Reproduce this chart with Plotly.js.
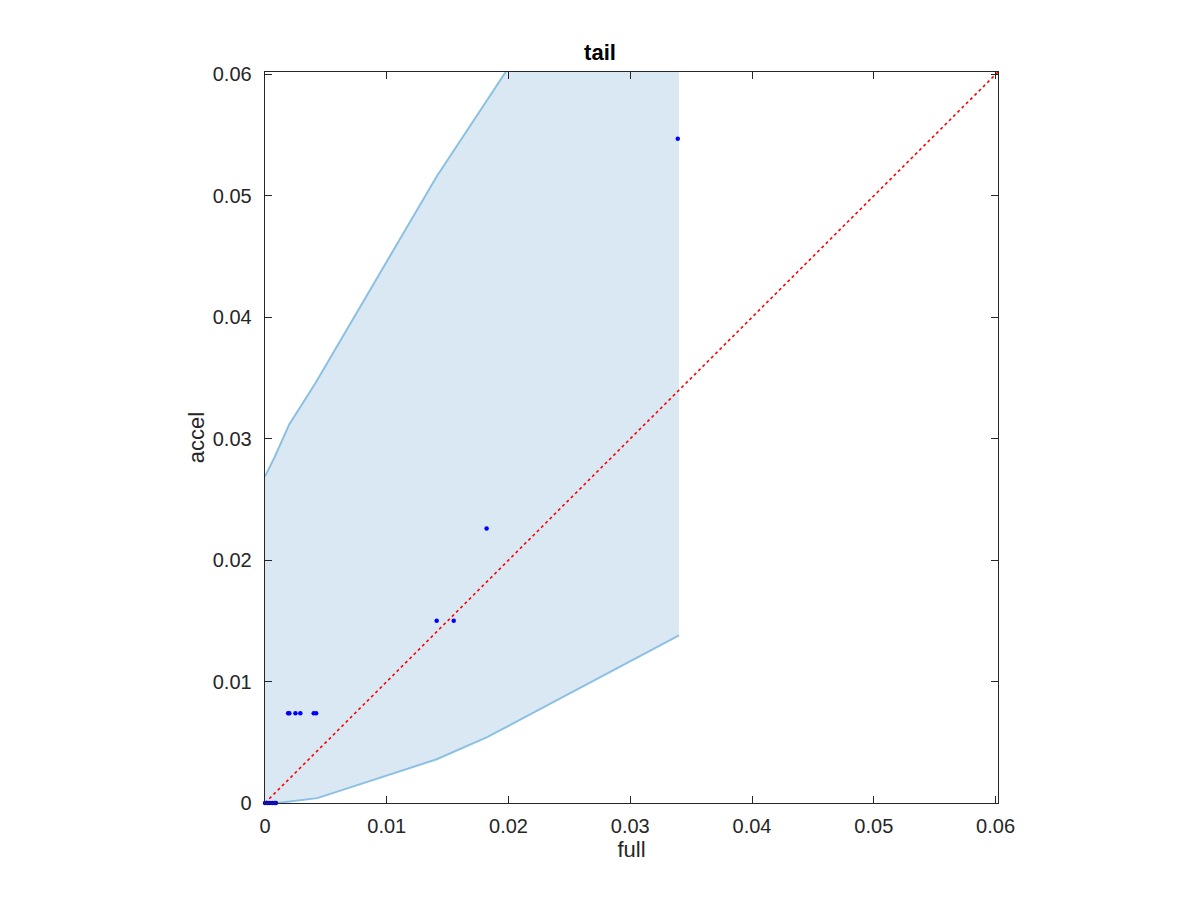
<!DOCTYPE html>
<html>
<head>
<meta charset="utf-8">
<script src="https://cdn.plot.ly/plotly-3.0.1.min.js"></script>
<style>html,body{margin:0;padding:0;background:#fff;}#chart{width:1200px;height:900px;}</style>
</head>
<body>
<div id="chart"></div>
<script>
// Band boundaries
var upperX = [0, 0.0008, 0.0020, 0.0041, 0.0141, 0.0199, 0.0340];
var upperY = [0.0269, 0.0285, 0.0312, 0.0345, 0.0516, 0.0604, 0.0818];
var lowerX = [0, 0.0010, 0.0043, 0.0141, 0.0182, 0.0340];
var lowerY = [0, 0.0000, 0.0004, 0.0036, 0.0054, 0.0138];

// Data points
var pointsX = [0, 0.0002, 0.0004, 0.0006, 0.0008, 0.0009,
               0.0019, 0.0020, 0.0025, 0.0029, 0.0040, 0.0042,
               0.0141, 0.0155, 0.0182, 0.0339];
var pointsY = [0, 0, 0, 0, 0, 0,
               0.0074, 0.0074, 0.0074, 0.0074, 0.0074, 0.0074,
               0.0150, 0.0150, 0.0226, 0.0547];

// Identity line
var diagX = [0, 0.0602];
var diagY = [0, 0.0602];

var tickVals = [0, 0.01, 0.02, 0.03, 0.04, 0.05, 0.06];
var tickText = ["0", "0.01", "0.02", "0.03", "0.04", "0.05", "0.06"];

var bandX = upperX.concat(lowerX.slice().reverse());
var bandY = upperY.concat(lowerY.slice().reverse());

var FONT = 'Liberation Sans, Arial, sans-serif';

var traces = [
  {x: bandX, y: bandY, type: 'scatter', mode: 'lines', fill: 'toself',
   fillcolor: 'rgba(218,232,243,1)', line: {width: 0}, hoverinfo: 'skip', showlegend: false},
  {x: upperX, y: upperY, type: 'scatter', mode: 'lines',
   line: {color: '#8cc0e2', width: 2}, showlegend: false},
  {x: lowerX, y: lowerY, type: 'scatter', mode: 'lines',
   line: {color: '#8cc0e2', width: 2}, showlegend: false},
  {x: diagX, y: diagY, type: 'scatter', mode: 'lines',
   line: {color: '#ff0000', width: 1.6, dash: 'dot'}, showlegend: false},
  {x: pointsX, y: pointsY, type: 'scatter', mode: 'markers', cliponaxis: false,
   marker: {color: '#0000ff', size: 4.5}, showlegend: false}
];

var axisCommon = {
  range: [0, 0.0602], tickvals: tickVals, ticktext: tickText,
  ticks: 'inside', ticklen: 7, tickwidth: 1, tickcolor: '#262626',
  showline: true, linecolor: '#262626', linewidth: 1.3, mirror: 'ticks',
  showgrid: false, zeroline: false,
  tickfont: {family: FONT, size: 20, color: '#262626'}
};

var layout = {
  width: 1200, height: 900,
  margin: {l: 265, r: 202, t: 72, b: 97},
  paper_bgcolor: '#ffffff', plot_bgcolor: '#ffffff',
  title: {text: '<b>tail</b>', x: 0.5, xanchor: 'center', y: 1 - 52/900, yanchor: 'middle',
          font: {family: FONT, size: 22, color: '#000'}},
  xaxis: Object.assign({}, axisCommon, {
    ticklabelstandoff: 5,
    title: {text: 'full', standoff: 3, font: {family: FONT, size: 22, color: '#262626'}}
  }),
  yaxis: Object.assign({}, axisCommon, {
    ticklabelstandoff: 8,
    title: {text: 'accel', standoff: 2, font: {family: FONT, size: 22, color: '#262626'}}
  }),
  showlegend: false
};

Plotly.newPlot('chart', traces, layout, {displayModeBar: false, staticPlot: true});
</script>
</body>
</html>
